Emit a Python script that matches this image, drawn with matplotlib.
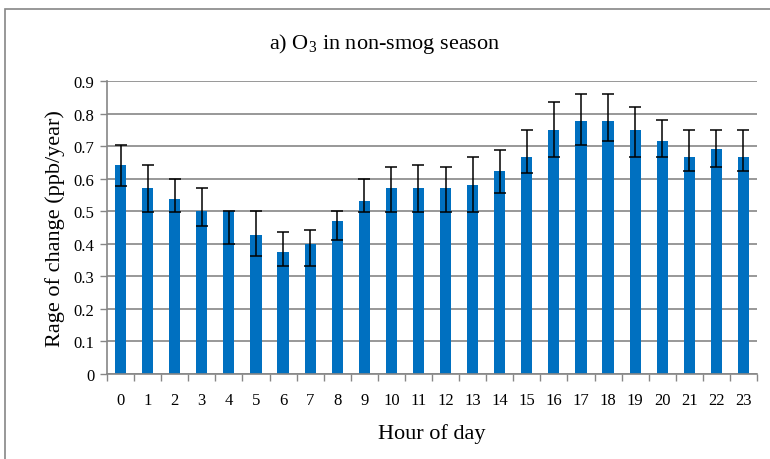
import numpy as np
import matplotlib
matplotlib.use('agg')
import matplotlib.pyplot as plt
from matplotlib.patches import Rectangle

hours = [str(h) for h in range(24)]
rate = [0.643, 0.571, 0.537, 0.500, 0.500, 0.427, 0.374, 0.399, 0.469, 0.532,
        0.571, 0.571, 0.571, 0.582, 0.625, 0.666, 0.750, 0.778, 0.778, 0.750,
        0.715, 0.666, 0.692, 0.666]
err_low = [0.578, 0.499, 0.499, 0.454, 0.400, 0.362, 0.331, 0.331, 0.411, 0.499,
           0.499, 0.499, 0.499, 0.499, 0.556, 0.616, 0.668, 0.702, 0.716, 0.668,
           0.668, 0.625, 0.636, 0.625]
err_high = [0.702, 0.643, 0.600, 0.571, 0.500, 0.500, 0.436, 0.443, 0.500, 0.600,
            0.637, 0.643, 0.637, 0.668, 0.688, 0.750, 0.834, 0.859, 0.859, 0.819,
            0.779, 0.750, 0.750, 0.750]

plt.rcParams['font.family'] = ['Liberation Serif', 'DejaVu Serif']
plt.rcParams['mathtext.fontset'] = 'custom'
plt.rcParams['mathtext.rm'] = 'Liberation Serif'
grey = '#868686'

fig = plt.figure(figsize=(7.7, 4.6), dpi=100)
ax = fig.add_axes([107/770, 1 - 375/460, 650/770, 293/460])

x = np.arange(len(hours))
rate = np.array(rate)
yerr = [rate - np.array(err_low), np.array(err_high) - rate]
ax.bar(x, rate, width=0.41, color='#0070C0', zorder=2)
ax.errorbar(x, rate, yerr=yerr, fmt='none', ecolor='black', elinewidth=1.1,
            capsize=4, capthick=1.1, zorder=3)

ax.set_xlim(-0.5, 23.5)
ax.set_ylim(0, 0.9)
ax.set_yticks(np.arange(0, 0.91, 0.1))
ax.set_yticklabels(['0'] + ['%.1f' % v for v in np.arange(0.1, 0.91, 0.1)])
ax.set_xticks(x)
ax.set_xticklabels(hours)
ax.set_xticks(np.arange(-0.5, 24, 1), minor=True)
ax.tick_params(axis='x', which='major', length=0, labelsize=12, pad=13)
ax.tick_params(axis='x', which='minor', length=5, color=grey, width=1)
ax.tick_params(axis='y', length=5, color=grey, width=1, labelsize=12, pad=4)
ax.grid(axis='y', color=grey, linewidth=1.2, zorder=0)
ax.set_axisbelow(True)
for s in ['top', 'right']:
    ax.spines[s].set_visible(False)
ax.spines['left'].set_color(grey)
ax.spines['bottom'].set_color(grey)
ax.spines['left'].set_linewidth(1.2)
ax.spines['bottom'].set_linewidth(1.2)

ax.set_xlabel('Hour of day', fontsize=16, labelpad=11)
ax.set_ylabel('Rage of change (ppb/year)', fontsize=16, labelpad=6)
fig.text(0.5, 1 - 44/460, r'a) O$_\mathrm{3}$ in non-smog season', fontsize=16,
         ha='center', va='center')

# outer chart frame
fig.patches.append(Rectangle((5/770, -0.1), 1.2, 1 - 10/460 + 0.1,
                             transform=fig.transFigure, fill=False,
                             edgecolor=grey, linewidth=1.2))

fig.savefig('out.png', dpi=100)
